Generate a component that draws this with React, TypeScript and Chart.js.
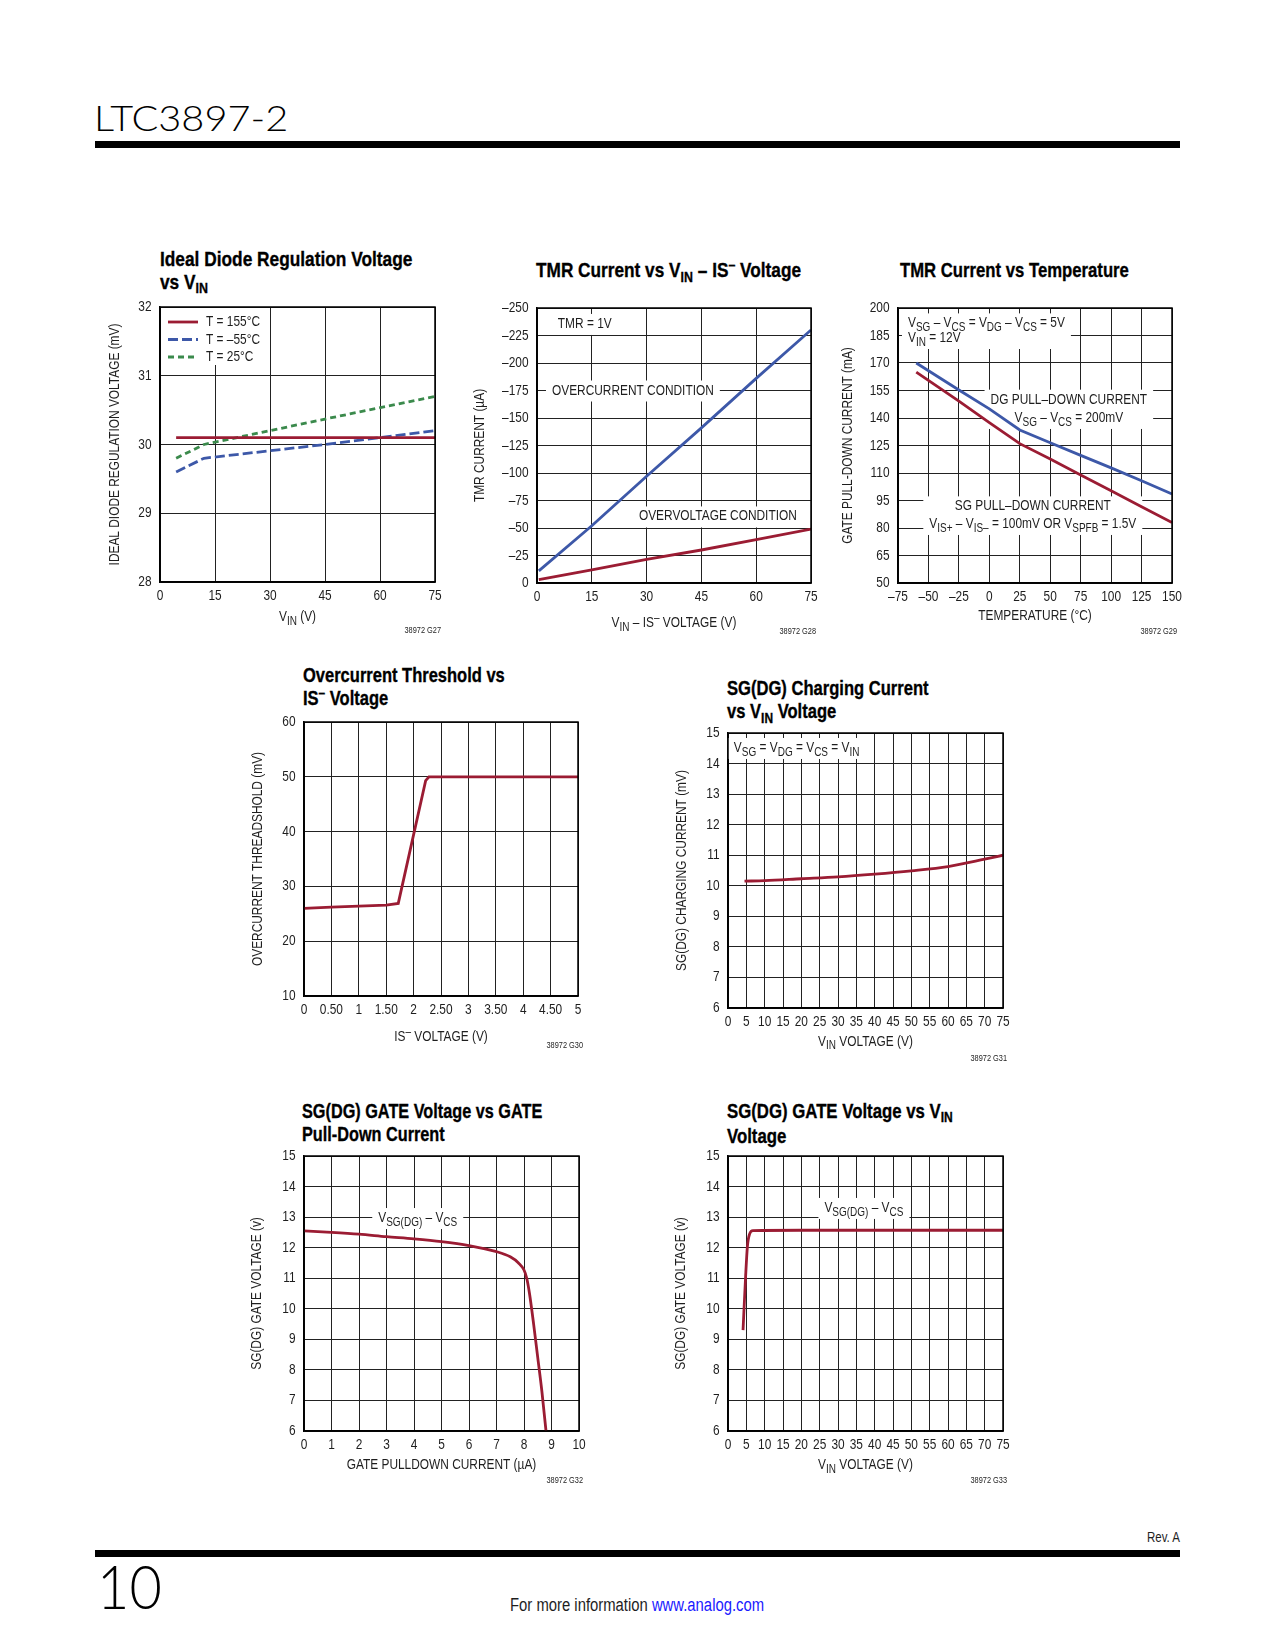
import React, { useEffect, useLayoutEffect, useRef, useState } from "react";
import { Chart, registerables } from "chart.js";

Chart.register(...registerables);

type Seg = { t: string; k?: "sub" | "sup" };
const s = (t: string): Seg => ({ t });
const sb = (t: string): Seg => ({ t, k: "sub" });
const sp = (t: string): Seg => ({ t, k: "sup" });

const FAMILY = "'Liberation Sans', Arial, Helvetica, sans-serif";
const LIGHT = "Lato, 'Liberation Sans', Arial, sans-serif";
const SX = 0.82; // horizontal condensing to mimic Helvetica Condensed
const RED = "#9b1c33";
const BLUE = "#3d58a8";
const GREEN = "#3b8a4c";
const INK = "#1e1e1e";
const FS = 14.5;
const SUBK = 0.84;

// ---------- Chart 1: Ideal Diode Regulation Voltage vs VIN ----------
const c1X155 = [4.4, 75];
const c1Y155 = [30.1, 30.1];
const c1XM55 = [4.4, 12, 45, 75];
const c1YM55 = [29.6, 29.8, 30.0, 30.2];
const c1X25 = [4.4, 12, 45, 75];
const c1Y25 = [29.8, 30.0, 30.37, 30.7];

// ---------- Chart 2: TMR Current vs VIN - IS- Voltage ----------
const c2X = [0.5, 15, 30, 45, 60, 75];
const c2YOvercurrent = [-11, -52, -97, -141, -186, -230];
const c2YOvervoltage = [-3, -12, -21.5, -30, -39.5, -49];

// ---------- Chart 3: TMR Current vs Temperature ----------
const c3X = [-60, -25, 0, 25, 50, 75, 100, 125, 150];
const c3YDg = [170, 155.3, 145, 133.5, 126.5, 119.6, 112.8, 105.8, 98.5];
const c3YSg = [165, 149.2, 137.5, 126, 117.6, 108.9, 100.3, 91.6, 83];

// ---------- Chart 4: Overcurrent Threshold vs IS- Voltage ----------
const c4X = [0, 0.5, 1, 1.5, 1.72, 2.22, 2.28, 3, 4, 5];
const c4Y = [26, 26.2, 26.4, 26.6, 26.9, 49.3, 50, 50, 50, 50];

// ---------- Chart 5: SG(DG) Charging Current vs VIN ----------
const c5X = [4.5, 10, 20, 30, 40, 50, 60, 70, 75];
const c5Y = [10.15, 10.17, 10.23, 10.29, 10.38, 10.49, 10.63, 10.87, 11.0];

// ---------- Chart 6: SG(DG) GATE Voltage vs GATE Pull-Down Current ----------
const c6X = [0, 1, 2, 3, 4, 5, 6, 7, 7.5, 7.8, 8.0, 8.1, 8.2, 8.35, 8.5, 8.65, 8.8];
const c6Y = [12.55, 12.5, 12.44, 12.36, 12.29, 12.2, 12.07, 11.87, 11.7, 11.5, 11.27, 11.0, 10.5, 9.5, 8.4, 7.3, 6.0];

// ---------- Chart 7: SG(DG) GATE Voltage vs VIN ----------
const c7X = [4.1, 4.8, 5.3, 5.9, 6.8, 20, 40, 60, 75];
const c7Y = [9.3, 11.05, 12.05, 12.45, 12.56, 12.57, 12.57, 12.57, 12.57];

const plainFmt = (v: number) => String(v);
const negFmt = (v: number) => (v < 0 ? "–" + Math.abs(v) : String(v));
const halfFmt = (v: number) => (Math.abs(v - Math.round(v)) < 1e-9 ? String(Math.round(v)) : v.toFixed(2));

type Series = { label: string; xs: number[]; ys: number[]; color: string; dash?: number[]; smooth?: boolean };
type Note = { x: number; y: number; align: "left" | "center"; gap?: number; lines: Seg[][] };
type Axis = { min: number; max: number; step: number; reverse?: boolean; fmt?: (v: number) => string };
type Spec = {
  plot: { L: number; T: number; W: number; H: number };
  x: Axis;
  y: Axis;
  series: Series[];
  xTitle: Seg[];
  xTitleDy: number;
  yTitle: Seg[];
  yTitleDx: number;
  notes: Note[];
  legend?: boolean;
};

const VSGDG: Seg[] = [s("V"), sb("SG(DG)"), s(" – V"), sb("CS")];

const specs: Spec[] = [
  {
    plot: { L: 160, T: 307, W: 275, H: 275 },
    x: { min: 0, max: 75, step: 15 },
    y: { min: 28, max: 32, step: 1 },
    series: [
      { label: "T = 155°C", xs: c1X155, ys: c1Y155, color: RED },
      { label: "T = –55°C", xs: c1XM55, ys: c1YM55, color: BLUE, dash: [10, 4] },
      { label: "T = 25°C", xs: c1X25, ys: c1Y25, color: GREEN, dash: [6, 4] },
    ],
    xTitle: [s("V"), sb("IN"), s(" (V)")],
    xTitleDy: 35,
    yTitle: [s("IDEAL DIODE REGULATION VOLTAGE (mV)")],
    yTitleDx: 45,
    notes: [],
    legend: true,
  },
  {
    plot: { L: 537, T: 308, W: 274, H: 275 },
    x: { min: 0, max: 75, step: 15 },
    y: { min: -250, max: 0, step: 25, reverse: true, fmt: negFmt },
    series: [
      { label: "OVERCURRENT CONDITION", xs: c2X, ys: c2YOvercurrent, color: BLUE },
      { label: "OVERVOLTAGE CONDITION", xs: c2X, ys: c2YOvervoltage, color: RED },
    ],
    xTitle: [s("V"), sb("IN"), s(" – IS"), sp("–"), s(" VOLTAGE (V)")],
    xTitleDy: 40,
    yTitle: [s("TMR CURRENT (µA)")],
    yTitleDx: 57,
    notes: [
      { x: 5.7, y: -235.5, align: "left", lines: [[s("TMR = 1V")]] },
      { x: 4.1, y: -175, align: "left", lines: [[s("OVERCURRENT CONDITION")]] },
      { x: 27.9, y: -60.5, align: "left", lines: [[s("OVERVOLTAGE CONDITION")]] },
    ],
  },
  {
    plot: { L: 898, T: 308, W: 274, H: 275 },
    x: { min: -75, max: 150, step: 25, fmt: negFmt },
    y: { min: 50, max: 200, step: 15 },
    series: [
      { label: "DG PULL–DOWN CURRENT", xs: c3X, ys: c3YDg, color: BLUE },
      { label: "SG PULL–DOWN CURRENT", xs: c3X, ys: c3YSg, color: RED },
    ],
    xTitle: [s("TEMPERATURE (°C)")],
    xTitleDy: 33,
    yTitle: [s("GATE PULL-DOWN CURRENT (mA)")],
    yTitleDx: 50,
    notes: [
      {
        x: -66.8, y: 191.6, align: "left", gap: 14.6,
        lines: [
          [s("V"), sb("SG"), s(" – V"), sb("CS"), s(" = V"), sb("DG"), s(" – V"), sb("CS"), s(" = 5V")],
          [s("V"), sb("IN"), s(" = 12V")],
        ],
      },
      {
        x: 65.3, y: 150, align: "center", gap: 18.3,
        lines: [[s("DG PULL–DOWN CURRENT")], [s("V"), sb("SG"), s(" – V"), sb("CS"), s(" = 200mV")]],
      },
      {
        x: 35.7, y: 91.8, align: "center", gap: 17.6,
        lines: [
          [s("SG PULL–DOWN CURRENT")],
          [s("V"), sb("IS+"), s(" – V"), sb("IS–"), s(" = 100mV OR V"), sb("SPFB"), s(" = 1.5V")],
        ],
      },
    ],
  },
  {
    plot: { L: 304, T: 722, W: 274, H: 274 },
    x: { min: 0, max: 5, step: 0.5, fmt: halfFmt },
    y: { min: 10, max: 60, step: 10 },
    series: [{ label: "Threshold", xs: c4X, ys: c4Y, color: RED }],
    xTitle: [s("IS"), sp("–"), s(" VOLTAGE (V)")],
    xTitleDy: 40.5,
    yTitle: [s("OVERCURRENT THREADSHOLD (mV)")],
    yTitleDx: 46,
    notes: [],
  },
  {
    plot: { L: 728, T: 733, W: 275, H: 275 },
    x: { min: 0, max: 75, step: 5 },
    y: { min: 6, max: 15, step: 1 },
    series: [{ label: "Charging", xs: c5X, ys: c5Y, color: RED, smooth: true }],
    xTitle: [s("V"), sb("IN"), s(" VOLTAGE (V)")],
    xTitleDy: 33.5,
    yTitle: [s("SG(DG) CHARGING CURRENT (mV)")],
    yTitleDx: 46,
    notes: [
      {
        x: 1.6, y: 14.51, align: "left",
        lines: [[s("V"), sb("SG"), s(" = V"), sb("DG"), s(" = V"), sb("CS"), s(" = V"), sb("IN")]],
      },
    ],
  },
  {
    plot: { L: 304, T: 1156, W: 275, H: 275 },
    x: { min: 0, max: 10, step: 1 },
    y: { min: 6, max: 15, step: 1 },
    series: [{ label: "Gate", xs: c6X, ys: c6Y, color: RED, smooth: true }],
    xTitle: [s("GATE PULLDOWN CURRENT (µA)")],
    xTitleDy: 34,
    yTitle: [s("SG(DG) GATE VOLTAGE (v)")],
    yTitleDx: 47,
    notes: [{ x: 2.7, y: 12.97, align: "left", lines: [VSGDG] }],
  },
  {
    plot: { L: 728, T: 1156, W: 275, H: 275 },
    x: { min: 0, max: 75, step: 5 },
    y: { min: 6, max: 15, step: 1 },
    series: [{ label: "Gate", xs: c7X, ys: c7Y, color: RED, smooth: true }],
    xTitle: [s("V"), sb("IN"), s(" VOLTAGE (V)")],
    xTitleDy: 34,
    yTitle: [s("SG(DG) GATE VOLTAGE (v)")],
    yTitleDx: 47,
    notes: [{ x: 26.3, y: 13.3, align: "left", lines: [VSGDG] }],
  },
];

const ML = 80, MR = 24, MT = 14, MB = 56;

function fontStr(size: number) {
  return `${size}px ${FAMILY}`;
}
function richWidth(ctx: CanvasRenderingContext2D, segs: Seg[], size: number) {
  let w = 0;
  for (const g of segs) {
    ctx.font = fontStr(g.k ? size * SUBK : size);
    w += ctx.measureText(g.t).width;
  }
  return w * SX;
}
function drawRich(
  ctx: CanvasRenderingContext2D,
  segs: Seg[],
  x: number,
  y: number,
  size: number,
  align: "left" | "center" | "right" = "left"
) {
  const w = richWidth(ctx, segs, size);
  const x0 = align === "center" ? x - w / 2 : align === "right" ? x - w : x;
  ctx.save();
  ctx.translate(x0, y);
  ctx.scale(SX, 1);
  ctx.textBaseline = "middle";
  ctx.textAlign = "left";
  let cx = 0;
  for (const g of segs) {
    const f = g.k ? size * SUBK : size;
    ctx.font = fontStr(f);
    const dy = g.k === "sub" ? size * 0.3 : g.k === "sup" ? -size * 0.3 : 0;
    ctx.fillText(g.t, cx, dy);
    cx += ctx.measureText(g.t).width;
  }
  ctx.restore();
}

const decorPlugin = {
  id: "decor",
  beforeDatasetsDraw(chart: any, _args: any, opts: any) {
    const ctx: CanvasRenderingContext2D = chart.ctx;
    const xs = chart.scales.x, ys = chart.scales.y;
    ctx.save();
    for (const n of (opts.notes || []) as Note[]) {
      const px = xs.getPixelForValue(n.x);
      const py = ys.getPixelForValue(n.y);
      const gap = n.gap || 18;
      const widths = n.lines.map((l) => richWidth(ctx, l, FS));
      const maxW = Math.max(...widths);
      const bx = n.align === "center" ? px - maxW / 2 : px;
      ctx.fillStyle = "#fff";
      ctx.fillRect(bx - 6, py - 10, maxW + 12, (n.lines.length - 1) * gap + 21);
      ctx.fillStyle = INK;
      n.lines.forEach((l, i) => {
        drawRich(ctx, l, px, py + i * gap, FS, n.align);
      });
    }
    if (opts.legend) {
      const a = chart.chartArea;
      ctx.fillStyle = "#fff";
      ctx.fillRect(a.left + 1, a.top + 1, 106, 57);
      chart.data.datasets.forEach((ds: any, i: number) => {
        const y = a.top + 15 + i * 17.5;
        ctx.beginPath();
        ctx.setLineDash(ds.borderDash || []);
        ctx.strokeStyle = ds.borderColor;
        ctx.lineWidth = ds.borderWidth;
        ctx.moveTo(a.left + 8, y);
        ctx.lineTo(a.left + 38, y);
        ctx.stroke();
        ctx.setLineDash([]);
        ctx.fillStyle = INK;
        drawRich(ctx, [s(ds.label)], a.left + 46, y, FS);
      });
    }
    ctx.restore();
  },
  afterDraw(chart: any, _args: any, opts: any) {
    const ctx: CanvasRenderingContext2D = chart.ctx;
    const a = chart.chartArea;
    const xs = chart.scales.x, ys = chart.scales.y;
    ctx.save();
    ctx.strokeStyle = "#000";
    ctx.lineWidth = 1.5;
    ctx.strokeRect(a.left, a.top, a.right - a.left, a.bottom - a.top);
    ctx.fillStyle = INK;
    // tick labels
    for (const t of xs.ticks) {
      const px = xs.getPixelForValue(t.value);
      drawRich(ctx, [s(opts.xFmt(t.value))], px, a.bottom + 14, FS, "center");
    }
    for (const t of ys.ticks) {
      const py = ys.getPixelForValue(t.value);
      drawRich(ctx, [s(opts.yFmt(t.value))], a.left - 8.5, py, FS, "right");
    }
    // axis titles
    drawRich(ctx, opts.xTitle, (a.left + a.right) / 2, a.bottom + opts.xTitleDy, FS, "center");
    ctx.translate(a.left - opts.yTitleDx, (a.top + a.bottom) / 2);
    ctx.rotate(-Math.PI / 2);
    drawRich(ctx, opts.yTitle, 0, 0, FS, "center");
    ctx.restore();
  },
};

function buildConfig(spc: Spec): any {
  const grid = { color: "#222", lineWidth: 1, drawTicks: false };
  const border = { display: true, color: "#000", width: 1.5 };
  return {
    type: "line",
    data: {
      datasets: spc.series.map((se) => ({
        label: se.label,
        data: se.xs.map((x, i) => ({ x, y: se.ys[i] })),
        borderColor: se.color,
        backgroundColor: se.color,
        borderWidth: 2.8,
        borderDash: se.dash || [],
        pointRadius: 0,
        fill: false,
        tension: 0,
        cubicInterpolationMode: se.smooth ? "monotone" : "default",
      })),
    },
    options: {
      responsive: false,
      maintainAspectRatio: false,
      animation: false,
      layout: { padding: { left: 0, top: MT, right: MR, bottom: 0 } },
      plugins: {
        legend: { display: false },
        tooltip: { enabled: false },
        decor: {
          notes: spc.notes,
          legend: !!spc.legend,
          xTitle: spc.xTitle,
          xTitleDy: spc.xTitleDy,
          yTitle: spc.yTitle,
          yTitleDx: spc.yTitleDx,
          xFmt: spc.x.fmt || plainFmt,
          yFmt: spc.y.fmt || plainFmt,
        },
      },
      scales: {
        x: {
          type: "linear",
          min: spc.x.min,
          max: spc.x.max,
          ticks: { stepSize: spc.x.step, autoSkip: false, display: false, maxRotation: 0, minRotation: 0 },
          grid,
          border,
          afterFit: (sc: any) => {
            sc.height = MB;
            sc.paddingLeft = 0;
            sc.paddingRight = 0;
          },
        },
        y: {
          type: "linear",
          min: spc.y.min,
          max: spc.y.max,
          reverse: !!spc.y.reverse,
          ticks: { stepSize: spc.y.step, autoSkip: false, display: false },
          grid,
          border,
          afterFit: (sc: any) => {
            sc.width = ML;
            sc.paddingTop = 0;
            sc.paddingBottom = 0;
          },
        },
      },
    },
    plugins: [decorPlugin],
  };
}

function PlotCanvas({ spec }: { spec: Spec }) {
  const ref = useRef<HTMLCanvasElement>(null);
  useEffect(() => {
    const ch = new Chart(ref.current as HTMLCanvasElement, buildConfig(spec));
    return () => ch.destroy();
  }, [spec]);
  const { L, T, W, H } = spec.plot;
  const w = W + ML + MR;
  const h = H + MT + MB;
  return (
    <canvas
      ref={ref}
      width={w}
      height={h}
      style={{ position: "absolute", left: L - ML, top: T - MT, width: w, height: h }}
    />
  );
}

const subStyle: React.CSSProperties = { fontSize: "0.72em", position: "relative", top: "0.3em" };
const supStyle: React.CSSProperties = { fontSize: "0.72em", position: "relative", top: "-0.45em" };
const Sub = ({ c }: { c: string }) => <span style={subStyle}>{c}</span>;
const Sup = ({ c }: { c: string }) => <span style={supStyle}>{c}</span>;

// Text block whose widest line is fitted horizontally to a target width
function Fit({
  left,
  top,
  target,
  style,
  children,
}: {
  left: number;
  top: number;
  target: number;
  style: React.CSSProperties;
  children: React.ReactNode;
}) {
  const ref = useRef<HTMLDivElement>(null);
  const [k, setK] = useState(SX);
  useLayoutEffect(() => {
    const el = ref.current;
    if (!el) return;
    const w = el.scrollWidth;
    if (w > 0) setK(target / w);
  }, [target]);
  return (
    <div
      ref={ref}
      style={{
        ...style,
        position: "absolute",
        left,
        top,
        width: "max-content",
        whiteSpace: "nowrap",
        transform: `scaleX(${k})`,
        transformOrigin: "0 0",
      }}
    >
      {children}
    </div>
  );
}

const titleStyle: React.CSSProperties = {
  fontFamily: FAMILY,
  fontWeight: "bold",
  fontSize: 21,
  lineHeight: "23px",
  color: "#000",
  WebkitTextStroke: "0.35px #000",
};

function Condensed({
  right,
  top,
  size,
  children,
}: {
  right: number;
  top: number;
  size: number;
  children: React.ReactNode;
}) {
  return (
    <div
      style={{
        position: "absolute",
        top,
        left: right - 300,
        width: 300,
        textAlign: "right",
        whiteSpace: "nowrap",
        fontFamily: FAMILY,
        fontSize: size,
        lineHeight: `${size}px`,
        color: INK,
        transform: `scaleX(${SX})`,
        transformOrigin: "100% 0",
      }}
    >
      {children}
    </div>
  );
}

const figIds = [
  { t: "38972 G27", r: 441, cy: 630 },
  { t: "38972 G28", r: 816, cy: 631 },
  { t: "38972 G29", r: 1177, cy: 631 },
  { t: "38972 G30", r: 583, cy: 1045 },
  { t: "38972 G31", r: 1007, cy: 1058 },
  { t: "38972 G32", r: 583, cy: 1480 },
  { t: "38972 G33", r: 1007, cy: 1480 },
];

export default function App() {
  return (
    <div
      style={{
        position: "absolute",
        left: 0,
        top: 0,
        width: 1275,
        height: 1650,
        background: "#fff",
        overflow: "hidden",
      }}
    >
      <Fit
        left={94}
        top={100}
        target={194}
        style={{ fontFamily: LIGHT, fontWeight: 300, fontSize: 35, lineHeight: "35px", color: "#000" }}
      >
        LTC3897-2
      </Fit>
      <div style={{ position: "absolute", left: 95, top: 141, width: 1085, height: 7, background: "#000" }} />

      <Fit left={160} top={246.5} target={252} style={titleStyle}>
        Ideal Diode Regulation Voltage
        <br />
        vs V<Sub c="IN" />
      </Fit>
      <Fit left={536} top={258} target={265} style={titleStyle}>
        TMR Current vs V<Sub c="IN" /> – IS<Sup c="–" /> Voltage
      </Fit>
      <Fit left={900} top={258} target={229} style={titleStyle}>
        TMR Current vs Temperature
      </Fit>
      <Fit left={303} top={662.5} target={202} style={titleStyle}>
        Overcurrent Threshold vs
        <br />
        IS<Sup c="–" /> Voltage
      </Fit>
      <Fit left={727} top={676} target={202} style={titleStyle}>
        SG(DG) Charging Current
        <br />
        vs V<Sub c="IN" /> Voltage
      </Fit>
      <Fit left={302} top={1098.5} target={240} style={titleStyle}>
        SG(DG) GATE Voltage vs GATE
        <br />
        Pull-Down Current
      </Fit>
      <Fit left={727} top={1098.5} target={226} style={titleStyle}>
        SG(DG) GATE Voltage vs V<Sub c="IN" />
        <br />
        Voltage
      </Fit>

      {specs.map((spc, i) => (
        <PlotCanvas key={i} spec={spc} />
      ))}

      {figIds.map((f) => (
        <Condensed key={f.t} right={f.r} top={f.cy - 4.5} size={9}>
          {f.t}
        </Condensed>
      ))}

      <Condensed right={1180} top={1530} size={14}>
        Rev. A
      </Condensed>
      <div style={{ position: "absolute", left: 95, top: 1550, width: 1085, height: 7, background: "#000" }} />
      <Fit
        left={97}
        top={1554.5}
        target={65}
        style={{ fontFamily: LIGHT, fontWeight: 300, fontSize: 61, lineHeight: "61px", color: "#000" }}
      >
        10
      </Fit>
      <Fit left={510} top={1596} target={254} style={{ fontFamily: FAMILY, fontSize: 18, lineHeight: "18px", color: INK }}>
        For more information <span style={{ color: "#1a1aff" }}>www.analog.com</span>
      </Fit>
    </div>
  );
}
